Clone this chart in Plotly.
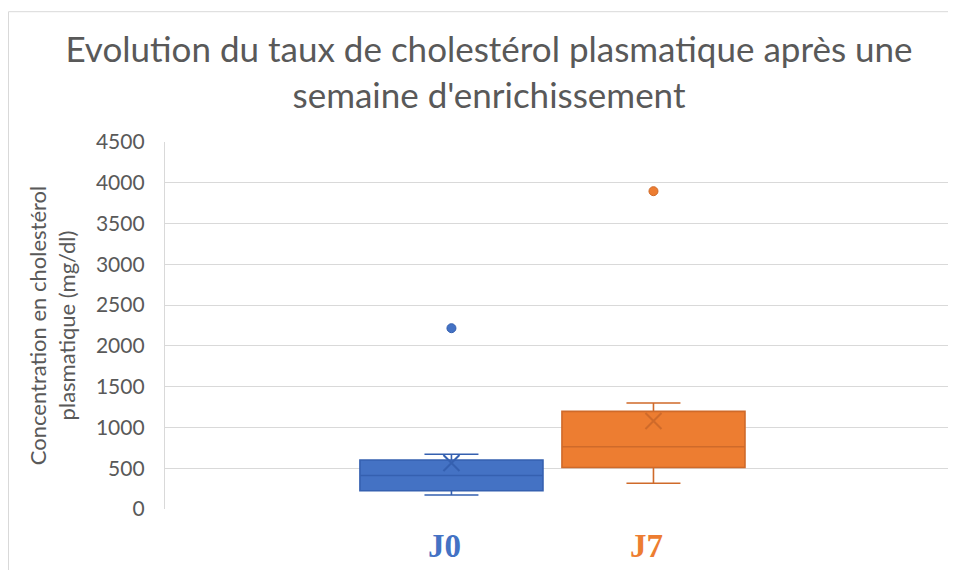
import plotly.graph_objects as go

# ---- data ----
groups = ["J0", "J7"]
lower_whisker = [172, 315]
q1_vals = [223, 508]
median_vals = [410, 763]
q3_vals = [600, 1197]
upper_whisker = [671, 1300]
mean_vals = [563, 1080]
outliers = [2217, 3897]

fill_colors = ["#4472C4", "#ED7D31"]
line_colors = ["#3560B0", "#CF6A2A"]

# page body has an 8px default margin; size the figure to fit the window
W, H = 940, 562
L, R, T, B = 157, 0, 134, 61
plot_w, plot_h = W - L - R, H - T - B

fig = go.Figure()

for i, g in enumerate(groups):
    fig.add_trace(go.Box(
        x=[i], q1=[q1_vals[i]], median=[median_vals[i]], q3=[q3_vals[i]],
        lowerfence=[lower_whisker[i]], upperfence=[upper_whisker[i]],
        name=g, width=0.906, whiskerwidth=0.295,
        fillcolor=fill_colors[i], line=dict(color=line_colors[i], width=1.6),
        boxpoints=False, showlegend=False, hoverinfo="skip",
    ))
    fig.add_trace(go.Scatter(
        x=[i], y=[mean_vals[i]], mode="markers", showlegend=False,
        marker=dict(symbol="x-thin", size=16, line=dict(color=line_colors[i], width=2)),
        hoverinfo="skip",
    ))
    fig.add_trace(go.Scatter(
        x=[i], y=[outliers[i]], mode="markers", showlegend=False,
        marker=dict(symbol="circle", size=9, color=fill_colors[i],
                    line=dict(color=line_colors[i], width=1)),
        hoverinfo="skip",
    ))

ticktext = [f'<span style="color:{fill_colors[i]}"><b>{g}</b></span>' for i, g in enumerate(groups)]

bx = (0.5 - L) / plot_w          # chart-area border, left edge (paper coords)
by = (H - B - 3.7) / plot_h      # chart-area border, top edge (paper coords)
by0 = -B / plot_h - 0.05

fig.update_layout(
    width=W, height=H,
    margin=dict(l=L, r=R, t=T, b=B, autoexpand=False),
    paper_bgcolor="white", plot_bgcolor="white",
    title=dict(
        text="Evolution du taux de cholestérol plasmatique après une<br>semaine d'enrichissement",
        x=481 / W, xref="container", xanchor="center",
        y=1 - 54 / H, yref="container", yanchor="top",
        font=dict(family="Lato", size=35, color="#595959"),
    ),
    xaxis=dict(
        range=[-1.418, 2.458], tickvals=[0, 1], ticktext=ticktext,
        tickfont=dict(family="Liberation Serif", size=33),
        showgrid=False, zeroline=False, showline=False, ticks="",
        ticklabelstandoff=14, ticklabelshift=-7,
    ),
    yaxis=dict(
        range=[0, 4500], dtick=500, tickformat="d",
        gridcolor="#D9D9D9", gridwidth=1.3,
        showline=True, linecolor="#D9D9D9", linewidth=1.3,
        zeroline=False, ticks="", ticklabelstandoff=15,
        tickfont=dict(family="Lato", size=21, color="#595959"),
        title=dict(text="Concentration en cholestérol<br>plasmatique (mg/dl)",
                   font=dict(family="Lato", size=22, color="#595959"), standoff=14),
    ),
    shapes=[
        dict(type="line", xref="paper", yref="paper", x0=bx, x1=bx, y0=by0, y1=by,
             line=dict(color="#D9D9D9", width=1), layer="below"),
        dict(type="line", xref="paper", yref="paper", x0=bx, x1=1.0, y0=by, y1=by,
             line=dict(color="#D9D9D9", width=1), layer="below"),
    ],
)

fig.write_html("out.html")
